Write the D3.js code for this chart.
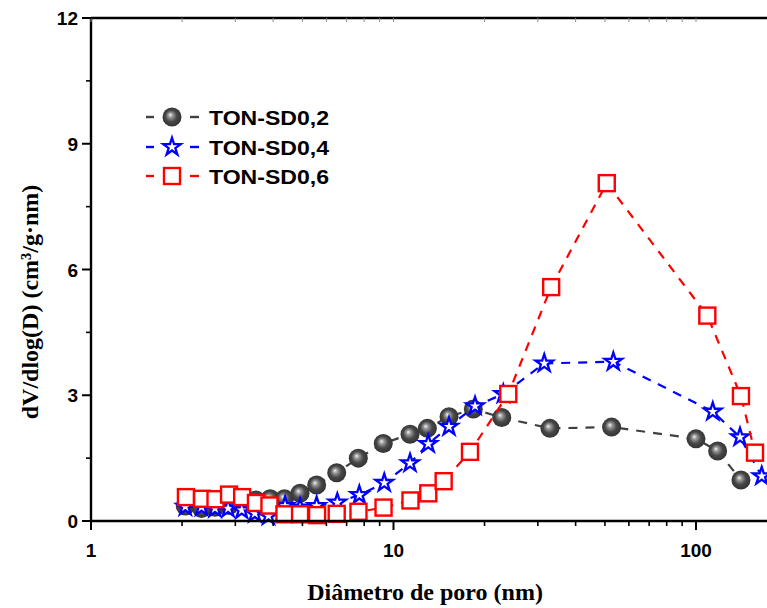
<!DOCTYPE html>
<html>
<head>
<meta charset="utf-8">
<script src="https://cdn.jsdelivr.net/npm/d3@7"></script>
<style>
  body { margin: 0; background: #fff; }
  svg { display: block; }
</style>
</head>
<body>
<div id="chart"></div>
<script>
// pore diameter (nm) and dV/dlog(D)
const sd02D = [2.05, 2.32, 2.57, 2.86, 3.16, 3.51, 3.91, 4.36, 4.91, 5.57, 6.49, 7.65, 9.25, 11.34, 12.94, 15.26, 18.36, 22.79, 32.9, 52.6, 100, 117.9, 140.8];
const sd02V = [0.36, 0.30, 0.33, 0.37, 0.42, 0.50, 0.53, 0.53, 0.66, 0.86, 1.15, 1.50, 1.85, 2.07, 2.21, 2.49, 2.67, 2.47, 2.21, 2.24, 1.96, 1.67, 0.98];

const sd04D = [2.05, 2.32, 2.57, 2.84, 3.15, 3.48, 3.86, 4.38, 4.91, 5.57, 6.52, 7.71, 9.32, 11.34, 13.03, 15.26, 18.6, 23.07, 31.5, 53.3, 113.6, 139.8, 164.9];
const sd04V = [0.34, 0.33, 0.30, 0.30, 0.26, 0.18, 0.12, 0.36, 0.32, 0.36, 0.44, 0.62, 0.91, 1.38, 1.84, 2.25, 2.74, 3.03, 3.76, 3.80, 2.61, 2.00, 1.07];

const sd06D = [2.06, 2.33, 2.58, 2.86, 3.16, 3.51, 3.89, 4.36, 4.91, 5.59, 6.49, 7.66, 9.27, 11.38, 13.03, 14.65, 17.9, 23.96, 33.2, 50.7, 109, 140.8, 156.7];
const sd06V = [0.57, 0.53, 0.52, 0.63, 0.57, 0.43, 0.37, 0.16, 0.16, 0.14, 0.17, 0.22, 0.32, 0.49, 0.66, 0.95, 1.65, 3.03, 5.58, 8.06, 4.90, 2.98, 1.63];

const seriesNames = ["TON-SD0,2", "TON-SD0,4", "TON-SD0,6"];
const yTicks = [0, 3, 6, 9, 12];
const yMinor = [1.5, 4.5, 7.5, 10.5];
const xTicks = [1, 10, 100];
const xMinor = [2, 3, 4, 5, 6, 7, 8, 9, 20, 30, 40, 50, 60, 70, 80, 90, 200];

const W = 767, H = 608;
const plot = { left: 91, top: 18, bottom: 521 };
const decade = 302.5;

const x = d3.scaleLog().domain([1, 200]).range([plot.left, plot.left + decade * Math.log10(200)]);
const y = d3.scaleLinear().domain([0, 12]).range([plot.bottom, plot.top]);

const svg = d3.select("#chart").append("svg")
    .attr("width", W)
    .attr("height", H);

// sphere gradient
const grad = svg.append("defs").append("radialGradient")
    .attr("id", "ball")
    .attr("cx", "50%").attr("cy", "50%").attr("r", "55%")
    .attr("fx", "40%").attr("fy", "38%");
grad.append("stop").attr("offset", "0%").attr("stop-color", "#f4f4f4");
grad.append("stop").attr("offset", "22%").attr("stop-color", "#9a9a9a");
grad.append("stop").attr("offset", "55%").attr("stop-color", "#484848");
grad.append("stop").attr("offset", "100%").attr("stop-color", "#2e2e2e");

const series = [
    { name: seriesNames[0], D: sd02D, V: sd02V, color: "#404040", shape: "ball" },
    { name: seriesNames[1], D: sd04D, V: sd04V, color: "#0000ff", shape: "star" },
    { name: seriesNames[2], D: sd06D, V: sd06V, color: "#ff0000", shape: "square" },
];

const star = d3.symbol().type(d3.symbolStar).size(95);

function drawMarker(g, shape, color) {
    if (shape === "ball") {
        g.append("circle").attr("r", 9.5).attr("fill", "url(#ball)");
    } else if (shape === "star") {
        g.append("path").attr("d", star())
            .attr("fill", "#fff").attr("stroke", color)
            .attr("stroke-width", 2.3).attr("stroke-linejoin", "miter");
    } else {
        g.append("rect").attr("x", -8).attr("y", -8)
            .attr("width", 16).attr("height", 16)
            .attr("fill", "#fff").attr("stroke", color).attr("stroke-width", 2.4);
    }
}

const line = d3.line().x(d => x(d[0])).y(d => y(d[1]));

series.forEach(s => {
    const pts = s.D.map((d, i) => [d, s.V[i]]);
    svg.append("path")
        .attr("d", line(pts))
        .attr("fill", "none")
        .attr("stroke", s.color)
        .attr("stroke-width", 2.2)
        .attr("stroke-dasharray", "9,8");
    svg.append("g").selectAll("g")
        .data(pts)
        .enter()
        .append("g")
        .attr("transform", d => `translate(${x(d[0])},${y(d[1])})`)
        .each(function () { drawMarker(d3.select(this), s.shape, s.color); });
});

// axes
const axisW = 2.4;
svg.append("line")
    .attr("x1", plot.left).attr("x2", W + 5)
    .attr("y1", plot.bottom).attr("y2", plot.bottom)
    .attr("stroke", "#000").attr("stroke-width", axisW);
svg.append("line")
    .attr("x1", plot.left).attr("x2", W + 5)
    .attr("y1", plot.top).attr("y2", plot.top)
    .attr("stroke", "#000").attr("stroke-width", axisW);
svg.append("line")
    .attr("x1", plot.left).attr("x2", plot.left)
    .attr("y1", plot.top).attr("y2", plot.bottom)
    .attr("stroke", "#000").attr("stroke-width", axisW);

const tickFont = "'Liberation Sans', Arial, sans-serif";

// bottom ticks
svg.append("g").selectAll("line.maj")
    .data(xTicks).enter().append("line")
    .attr("x1", d => x(d)).attr("x2", d => x(d))
    .attr("y1", plot.bottom).attr("y2", plot.bottom + 9)
    .attr("stroke", "#000").attr("stroke-width", 2);
svg.append("g").selectAll("line.min")
    .data(xMinor).enter().append("line")
    .attr("x1", d => x(d)).attr("x2", d => x(d))
    .attr("y1", plot.bottom).attr("y2", plot.bottom + 5)
    .attr("stroke", "#000").attr("stroke-width", 1.6);
svg.append("g").selectAll("text")
    .data(xTicks).enter().append("text")
    .attr("x", d => x(d)).attr("y", 557)
    .attr("text-anchor", "middle")
    .style("font-family", tickFont).style("font-weight", "bold").style("font-size", "19px")
    .text(d => d);

// top ticks (mirror, inward, faint)
svg.append("g").selectAll("line")
    .data(xTicks.concat(xMinor)).enter().append("line")
    .attr("x1", d => x(d)).attr("x2", d => x(d))
    .attr("y1", plot.top).attr("y2", plot.top + 4)
    .attr("stroke", "#888").attr("stroke-width", 1);

// left ticks
svg.append("g").selectAll("line.maj")
    .data(yTicks).enter().append("line")
    .attr("x1", plot.left - 9).attr("x2", plot.left)
    .attr("y1", d => y(d)).attr("y2", d => y(d))
    .attr("stroke", "#000").attr("stroke-width", 2);
svg.append("g").selectAll("line.min")
    .data(yMinor).enter().append("line")
    .attr("x1", plot.left - 5).attr("x2", plot.left)
    .attr("y1", d => y(d)).attr("y2", d => y(d))
    .attr("stroke", "#000").attr("stroke-width", 1.6);
svg.append("g").selectAll("text")
    .data(yTicks).enter().append("text")
    .attr("x", 78).attr("y", d => y(d) + 7)
    .attr("text-anchor", "end")
    .style("font-family", tickFont).style("font-weight", "bold").style("font-size", "19px")
    .text(d => d);

// axis titles
const titleFont = "'Liberation Serif', 'Times New Roman', serif";
svg.append("text")
    .attr("x", 425).attr("y", 600)
    .attr("text-anchor", "middle")
    .style("font-family", titleFont).style("font-weight", "bold").style("font-size", "24px")
    .text("Diâmetro de poro (nm)");

svg.append("text")
    .attr("transform", "translate(38,302) rotate(-90)")
    .attr("text-anchor", "middle")
    .style("font-family", titleFont).style("font-weight", "bold").style("font-size", "24px")
    .text("dV/dlog(D) (cm³/g·nm)");

// legend
const legY = [117, 147, 176];
series.forEach((s, i) => {
    const g = svg.append("g").attr("transform", `translate(0,${legY[i]})`);
    [[146, 154], [190, 199]].forEach(seg => {
        g.append("line")
            .attr("x1", seg[0]).attr("x2", seg[1])
            .attr("stroke", s.color).attr("stroke-width", 2.4);
    });
    const m = g.append("g").attr("transform", "translate(172,0)");
    drawMarker(m, s.shape, s.color);
    g.append("text")
        .attr("x", 209).attr("y", 8)
        .attr("textLength", 120).attr("lengthAdjust", "spacingAndGlyphs")
        .style("font-family", tickFont).style("font-weight", "bold").style("font-size", "21px")
        .text(s.name);
});
</script>
</body>
</html>
